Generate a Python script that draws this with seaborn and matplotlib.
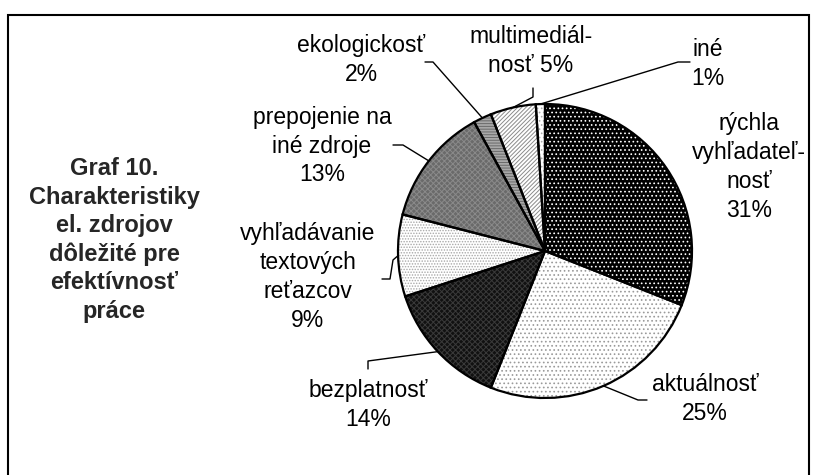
import numpy as np
import matplotlib; matplotlib.use("Agg")
import matplotlib.pyplot as plt
from matplotlib.patches import Rectangle
import seaborn as sns

# data (clockwise from 12 o'clock)
categories = ["rýchla vyhľadateľnosť", "aktuálnosť", "bezplatnosť",
              "vyhľadávanie textových reťazcov", "prepojenie na iné zdroje",
              "ekologickosť", "multimediálnosť", "iné"]
shares = [31, 25, 14, 9, 13, 2, 5, 1]
label_text = ["rýchla\nvyhľadateľ-\nnosť", "aktuálnosť", "bezplatnosť",
              "vyhľadávanie\ntextových\nreťazcov", "prepojenie na\niné zdroje",
              "ekologickosť", "multimediál-\nnosť", "iné"]
pct_sep = ["\n", "\n", "\n", "\n", "\n", "\n", " ", "\n"]
title = "Graf 10.\nCharakteristiky\nel. zdrojov\ndôležité pre\nefektívnosť\npráce"

# styling (pixel coords, y measured from top)
W, H = 814, 475
CX, CY, R = 545, 251, 147
faces   = ["#000000", "#ffffff", "#111111", "#ffffff", "#6a6a6a", "#a8a8a8", "#ffffff", "#ffffff"]
hatches = ["....", "....", "xxxxxx", "......", "xxxxxx", "------", "////////", "...."]
hcols   = ["#ffffff", "#9a9a9a", "#3a3a3a", "#a8a8a8", "#8a8a8a", "#6a6a6a", "#8a8a8a", "#aaaaaa"]
lab_pos = [(749, 167), (705, 399), (368, 405), (308, 277), (322, 146),
           (361, 60), (531, 51), (708, 64)]
# leader elbows, the line then runs to the wedge rim
leaders = [None, [(647, 400), (638, 400)], [(368, 369), (368, 361)],
           [(382, 279), (390, 279), (393, 260)], [(393, 145), (403, 145)],
           [(425, 62), (433, 62)], [(533, 88), (533, 97)], [(690, 62), (678, 62)]]

sns.set_theme(style="white")
plt.rcParams["font.family"] = ["Liberation Sans", "DejaVu Sans"]
plt.rcParams["hatch.linewidth"] = 0.7

fig = plt.figure(figsize=(W / 100, H / 100), dpi=100)
ax = fig.add_axes([0, 0, 1, 1])
Y = lambda y: H - y

# textured fill
wedges, _ = ax.pie(shares, startangle=90, counterclock=False, center=(CX, Y(CY)),
                   radius=R, frame=True, wedgeprops=dict(linewidth=0))
for w, fc, ht, hc in zip(wedges, faces, hatches, hcols):
    w.set_facecolor(fc); w.set_hatch(ht); w.set_edgecolor(hc); w.set_linewidth(0)
# outlines
ax.pie(shares, startangle=90, counterclock=False, center=(CX, Y(CY)), radius=R,
       frame=True, wedgeprops=dict(fill=False, edgecolor="black", linewidth=1.6))

for w, lab, sep, p, (lx, ly), ld in zip(wedges, label_text, pct_sep, shares, lab_pos, leaders):
    ax.text(lx, Y(ly), f"{lab}{sep}{p}%", ha="center", va="center",
            multialignment="center", fontsize=16.5, linespacing=1.33, color="black")
    if ld:
        mid = np.deg2rad((w.theta1 + w.theta2) / 2)
        pts = [(x, Y(y)) for x, y in ld] + [(CX + R * np.cos(mid), Y(CY) + R * np.sin(mid))]
        xs, ys = zip(*pts)
        ax.plot(xs, ys, color="black", lw=1)

ax.text(114, Y(240), title, ha="center", va="center", multialignment="center",
        fontsize=17, fontweight="bold", linespacing=1.3)

ax.add_patch(Rectangle((8, -10), 801, Y(15) + 10, fill=False, edgecolor="black", lw=1.5))
ax.set_xlim(0, W); ax.set_ylim(0, H); ax.set_aspect("equal")
ax.axis("off")
fig.savefig("out.png", dpi=100, facecolor="white")
